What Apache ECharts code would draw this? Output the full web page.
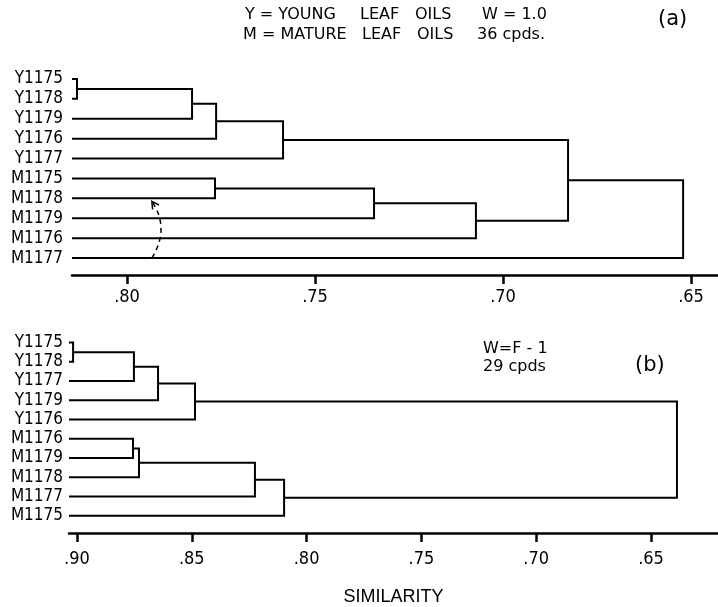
<!DOCTYPE html>
<html>
<head>
<meta charset="utf-8">
<script src="https://cdn.jsdelivr.net/npm/echarts@6/dist/echarts.min.js"></script>
<style>
  html, body { margin: 0; padding: 0; background: #fff; }
  #chart { width: 718px; height: 607px; }
</style>
</head>
<body>
<div id="chart"></div>
<script>
// (a) W = 1.0, 36 cpds
const leavesA = ['Y1175', 'Y1178', 'Y1179', 'Y1176', 'Y1177', 'M1175', 'M1178', 'M1179', 'M1176', 'M1177'];
// '#k' = cluster made by the k-th merge
const pairsA = [
  ['Y1175', 'Y1178'], ['#0', 'Y1179'], ['#1', 'Y1176'], ['#2', 'Y1177'],
  ['M1175', 'M1178'], ['#4', 'M1179'], ['#5', 'M1176'], ['#3', '#6'], ['#7', 'M1177']
];
const simsA = [0.8133, 0.7827, 0.7763, 0.7585, 0.7766, 0.7343, 0.7072, 0.6827, 0.6521];
const ticksA = [0.80, 0.75, 0.70, 0.65];
const tickLabelsA = ['.80', '.75', '.70', '.65'];
// dashed arrow M1177 -> M1178: [similarity, from row, to row, bulge similarity]
const arrowA = [[0.7934, 9, 6, 0.7885]];

// (b) W = F-1, 29 cpds
const leavesB = ['Y1175', 'Y1178', 'Y1177', 'Y1179', 'Y1176', 'M1176', 'M1179', 'M1178', 'M1177', 'M1175'];
const pairsB = [
  ['Y1175', 'Y1178'], ['#0', 'Y1177'], ['#1', 'Y1179'], ['#2', 'Y1176'],
  ['M1176', 'M1179'], ['#4', 'M1178'], ['#5', 'M1177'], ['#6', 'M1175'], ['#3', '#7']
];
const simsB = [0.9017, 0.8752, 0.8647, 0.8486, 0.8756, 0.8730, 0.8225, 0.8098, 0.6387];
const ticksB = [0.90, 0.85, 0.80, 0.75, 0.70, 0.65];
const tickLabelsB = ['.90', '.85', '.80', '.75', '.70', '.65'];

const rangeA = [0.64282, 0.81463];
const rangeB = [0.62082, 0.90348];

// each merge -> [merge sim, row of child a, row of child b, sim of child a, sim of child b]
function buildLinks(leaves, pairs, sims, leafSim) {
  const rowOf = {}, simOf = {};
  leaves.forEach((n, i) => { rowOf[n] = i; simOf[n] = leafSim; });
  return pairs.map(([a, b], k) => {
    const item = [sims[k], rowOf[a], rowOf[b], simOf[a], simOf[b]];
    rowOf['#' + k] = (rowOf[a] + rowOf[b]) / 2;
    simOf['#' + k] = sims[k];
    return item;
  });
}

const ink = '#000';
const labelFont = "'DejaVu Sans Condensed', 'Liberation Sans', sans-serif";
const textFont = "'DejaVu Sans', sans-serif";

const renderLink = (params, api) => {
  const m = api.value(0), ra = api.value(1), rb = api.value(2);
  const pts = [
    api.coord([api.value(3), ra]),
    api.coord([m, ra]),
    api.coord([m, rb]),
    api.coord([api.value(4), rb])
  ];
  return {
    type: 'polyline',
    shape: { points: pts },
    style: { stroke: ink, lineWidth: 2, fill: null }
  };
};

const renderArrow = (params, api) => {
  const p0 = api.coord([api.value(0), api.value(1)]);
  const p2 = api.coord([api.value(0), api.value(2)]);
  p2[1] += 3;
  const cp = api.coord([api.value(3), (api.value(1) + api.value(2)) / 2]);
  let dx = p2[0] - cp[0], dy = p2[1] - cp[1];
  const len = Math.sqrt(dx * dx + dy * dy);
  dx /= len; dy /= len;
  const head = (ang) => {
    const c = Math.cos(ang), s = Math.sin(ang);
    return [p2[0] - 8 * (dx * c - dy * s), p2[1] - 8 * (dx * s + dy * c)];
  };
  return {
    type: 'group',
    children: [
      {
        type: 'bezierCurve',
        shape: { x1: p0[0], y1: p0[1], x2: p2[0], y2: p2[1], cpx1: cp[0], cpy1: cp[1] },
        style: { stroke: ink, lineWidth: 1.5, lineDash: [5, 4], fill: null }
      },
      {
        type: 'polyline',
        shape: { points: [head(0.5), p2, head(-0.5)] },
        style: { stroke: ink, lineWidth: 1.5, fill: null }
      }
    ]
  };
};

function xAxisOf(grid, range, ticks, tickLabels, margin, extra) {
  return Object.assign({
    gridIndex: grid,
    type: 'value',
    inverse: true,
    min: range[0],
    max: range[1],
    splitLine: { show: false },
    axisLine: { onZero: false, lineStyle: { color: ink, width: 2.5 } },
    axisTick: { customValues: ticks, length: 9, lineStyle: { color: ink, width: 2.5 } },
    axisLabel: {
      customValues: ticks,
      formatter: (v) => tickLabels[ticks.findIndex(t => Math.abs(t - v) < 1e-6)],
      color: ink, fontSize: 18, fontFamily: labelFont, margin: margin
    }
  }, extra || {});
}

function yAxisOf(grid, leaves, max, margin) {
  return {
    gridIndex: grid,
    type: 'value',
    inverse: true,
    min: -0.5,
    max: max,
    splitLine: { show: false },
    axisLine: { show: false },
    axisTick: { show: false },
    axisLabel: {
      customValues: leaves.map((n, i) => i),
      formatter: (v) => leaves[Math.round(v)],
      color: ink, fontSize: 17, fontFamily: labelFont, margin: margin
    }
  };
}

const txt = (text, x, y, size, extra) => ({
  type: 'text', x: x, y: y,
  style: Object.assign({ text: text, fill: ink, fontSize: size, fontFamily: textFont, verticalAlign: 'middle' }, extra || {})
});

const option = {
  animation: false,
  backgroundColor: '#fff',
  grid: [
    { left: 72, right: 0, top: 69, height: 206 },
    { left: 69, right: 0, top: 333, height: 207 }
  ],
  xAxis: [
    xAxisOf(0, rangeA, ticksA, tickLabelsA, 13),
    xAxisOf(1, rangeB, ticksB, tickLabelsB, 17, {
      name: 'SIMILARITY',
      nameLocation: 'middle',
      nameGap: 55,
      nameTextStyle: { color: ink, fontSize: 18, fontFamily: "'Liberation Sans', sans-serif" }
    })
  ],
  yAxis: [
    yAxisOf(0, leavesA, 9.85, 9),
    yAxisOf(1, leavesB, 9.9, 6)
  ],
  graphic: [
    txt('Y = YOUNG', 245, 15, 16),
    txt('LEAF', 360, 15, 16),
    txt('OILS', 415, 15, 16),
    txt('W = 1.0', 482, 15, 16),
    txt('M = MATURE', 243, 35, 16),
    txt('LEAF', 362, 35, 16),
    txt('OILS', 417, 35, 16),
    txt('36 cpds.', 477, 35, 16),
    txt('(a)', 658, 20, 21),
    txt('W=F - 1', 483, 349, 16),
    txt('29 cpds', 483, 367, 16),
    txt('(b)', 635, 366, 21)
  ],
  series: [
    {
      type: 'custom',
      xAxisIndex: 0, yAxisIndex: 0,
      renderItem: renderLink,
      data: buildLinks(leavesA, pairsA, simsA, rangeA[1])
    },
    {
      type: 'custom',
      xAxisIndex: 0, yAxisIndex: 0,
      renderItem: renderArrow,
      data: arrowA
    },
    {
      type: 'custom',
      xAxisIndex: 1, yAxisIndex: 1,
      renderItem: renderLink,
      data: buildLinks(leavesB, pairsB, simsB, rangeB[1])
    }
  ]
};

const myChart = echarts.init(document.getElementById('chart'));
myChart.setOption(option);
</script>
</body>
</html>
